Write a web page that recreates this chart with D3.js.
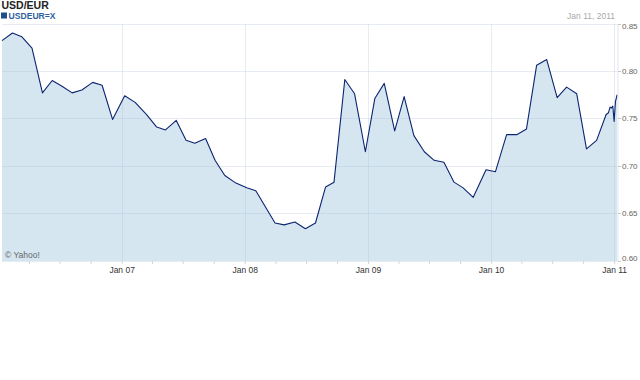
<!DOCTYPE html>
<html>
<head>
<meta charset="utf-8">
<script src="https://cdn.jsdelivr.net/npm/d3@7"></script>
<style>
  body { margin: 0; background: #fff; }
  text { font-family: Arial, "Liberation Sans", sans-serif; }
</style>
</head>
<body>
<div id="chart"></div>
<script>
// USD/EUR closing values
var dates = [
  "2006-01-11", "2006-02-11", "2006-03-11", "2006-04-10", "2006-05-11", "2006-06-09",
  "2006-07-08", "2006-08-07", "2006-09-05", "2006-10-07", "2006-11-04", "2006-12-05",
  "2007-01-10", "2007-02-10", "2007-03-16", "2007-04-15", "2007-05-11", "2007-06-12",
  "2007-07-11", "2007-08-06", "2007-09-07", "2007-10-05", "2007-11-03", "2007-12-06",
  "2008-01-07", "2008-02-03", "2008-03-31", "2008-04-27", "2008-05-29", "2008-06-29",
  "2008-07-29", "2008-08-28", "2008-09-22", "2008-10-24", "2008-11-22", "2008-12-24",
  "2009-01-21", "2009-02-18", "2009-03-21", "2009-04-18", "2009-05-17", "2009-06-17",
  "2009-07-16", "2009-08-14", "2009-09-13", "2009-10-10", "2009-11-09", "2009-12-17",
  "2010-01-14", "2010-02-16", "2010-03-18", "2010-04-16", "2010-05-16", "2010-06-15",
  "2010-07-16", "2010-08-13", "2010-09-12", "2010-10-11", "2010-11-10", "2010-12-08",
  "2010-12-15", "2010-12-20", "2010-12-24", "2010-12-28", "2011-01-01", "2011-01-05",
  "2011-01-10"
];
var values = [
  0.832, 0.840, 0.836, 0.824, 0.777, 0.790,
  0.784, 0.777, 0.780, 0.788, 0.785, 0.749,
  0.774, 0.767, 0.754, 0.741, 0.738, 0.748,
  0.727, 0.724, 0.729, 0.706, 0.690, 0.682,
  0.677, 0.674, 0.640, 0.638, 0.641, 0.634,
  0.640, 0.678, 0.683, 0.791, 0.776, 0.715,
  0.771, 0.787, 0.737, 0.773, 0.732, 0.715,
  0.706, 0.704, 0.683, 0.677, 0.667, 0.696,
  0.694, 0.733, 0.733, 0.739, 0.806, 0.812,
  0.772, 0.783, 0.776, 0.718, 0.727, 0.754,
  0.756, 0.762, 0.761, 0.763, 0.747, 0.768,
  0.775
];
var yTicks = [0.60, 0.65, 0.70, 0.75, 0.80, 0.85];
var startDate = "2006-01-11", endDate = "2011-01-11";
var title = "USD/EUR", symbol = "USDEUR=X", dateLabel = "Jan 11, 2011";

var parse = d3.timeParse("%Y-%m-%d");
var data = dates.map(function (d, i) { return { date: parse(d), value: values[i] }; });

// plot box (window.top is reserved, so use a margin object)
var width = 640, height = 380;
var plot = { left: 2, right: 617.5, top: 23.5, bottom: 261 };

var svg = d3.select("#chart").append("svg")
    .attr("width", width)
    .attr("height", height);

var x = d3.scaleTime()
    .domain([parse(startDate), parse(endDate)])
    .range([plot.left, plot.right]);
var y = d3.scaleLinear()
    .domain([0.60, 0.85])
    .range([plot.bottom, plot.top]);

// area fill
svg.append("path")
    .datum(data)
    .attr("fill", "#d6e6f1")
    .attr("d", d3.area()
        .x(function (d) { return x(d.date); })
        .y0(plot.bottom)
        .y1(function (d) { return y(d.value); }));

// grid on top of the fill, very faint
var years = x.ticks(d3.timeYear.every(1));
svg.append("g")
    .selectAll("line")
    .data(yTicks)
    .enter().append("line")
    .attr("x1", plot.left).attr("x2", plot.right)
    .attr("y1", function (d) { return Math.round(y(d)) + 0.5; })
    .attr("y2", function (d) { return Math.round(y(d)) + 0.5; })
    .attr("stroke", "rgb(160,180,205)")
    .attr("stroke-opacity", 0.25);
svg.append("g")
    .selectAll("line")
    .data(years)
    .enter().append("line")
    .attr("x1", function (d) { return Math.round(x(d)) + 0.5; })
    .attr("x2", function (d) { return Math.round(x(d)) + 0.5; })
    .attr("y1", plot.top).attr("y2", plot.bottom)
    .attr("stroke", "rgb(160,180,205)")
    .attr("stroke-opacity", 0.25);

svg.append("path")
    .datum(data)
    .attr("fill", "none")
    .attr("stroke", "#0c2470")
    .attr("stroke-width", 1.1)
    .attr("stroke-linejoin", "round")
    .attr("d", d3.line()
        .x(function (d) { return x(d.date); })
        .y(function (d) { return y(d.value); }));

// right border / y axis
svg.append("line")
    .attr("x1", plot.right + 0.5).attr("x2", plot.right + 0.5)
    .attr("y1", plot.top).attr("y2", plot.bottom)
    .attr("stroke", "#e2e6ec");

var yAxis = svg.append("g")
    .attr("transform", "translate(" + (plot.right + 0.5) + ",0)");
yAxis.selectAll("line")
    .data(yTicks)
    .enter().append("line")
    .attr("x1", 0).attr("x2", 3)
    .attr("y1", function (d) { return Math.round(y(d)) + 0.5; })
    .attr("y2", function (d) { return Math.round(y(d)) + 0.5; })
    .attr("stroke", "#c8c8c8");
yAxis.selectAll("text")
    .data(yTicks)
    .enter().append("text")
    .attr("x", 4)
    .attr("y", function (d) { return Math.min(Math.max(y(d), 26), 258); })
    .attr("dy", "0.35em")
    .attr("font-size", "8px")
    .attr("fill", "#666")
    .text(function (d) { return d3.format(".2f")(d); });

// bottom axis: quarterly minor ticks, year labels
var xMinor = svg.append("g")
    .attr("transform", "translate(0," + plot.bottom + ")")
    .call(d3.axisBottom(x).ticks(d3.timeMonth.every(3)).tickSize(3).tickFormat(""));
xMinor.select(".domain").remove();
xMinor.selectAll("line").attr("stroke", "#d4d4d4");

var xAxis = svg.append("g")
    .attr("transform", "translate(0," + plot.bottom + ")")
    .call(d3.axisBottom(x).tickValues(years).tickSize(0).tickPadding(6)
        .tickFormat(d3.timeFormat("Jan %y")));
xAxis.select(".domain").remove();
xAxis.selectAll("text")
    .attr("font-family", "Arial, 'Liberation Sans', sans-serif")
    .attr("font-size", "8.5px")
    .attr("fill", "#333");

// header
svg.append("text")
    .attr("x", 1.5).attr("y", 9)
    .attr("font-size", "10.5px")
    .attr("font-weight", "bold")
    .attr("fill", "#222")
    .text(title);
svg.append("rect")
    .attr("x", 1).attr("y", 12.5)
    .attr("width", 6).attr("height", 6)
    .attr("fill", "#1f4e8c");
svg.append("text")
    .attr("x", 8.5).attr("y", 18.5)
    .attr("font-size", "8.6px")
    .attr("font-weight", "bold")
    .attr("fill", "#2f5f9f")
    .text(symbol);
svg.append("text")
    .attr("x", 615).attr("y", 18.5)
    .attr("text-anchor", "end")
    .attr("font-size", "8.5px")
    .attr("fill", "#aaa")
    .text(dateLabel);

svg.append("text")
    .attr("x", 5).attr("y", 257.5)
    .attr("font-size", "8.5px")
    .attr("fill", "#666")
    .text("\u00a9 Yahoo!");
</script>
</body>
</html>
